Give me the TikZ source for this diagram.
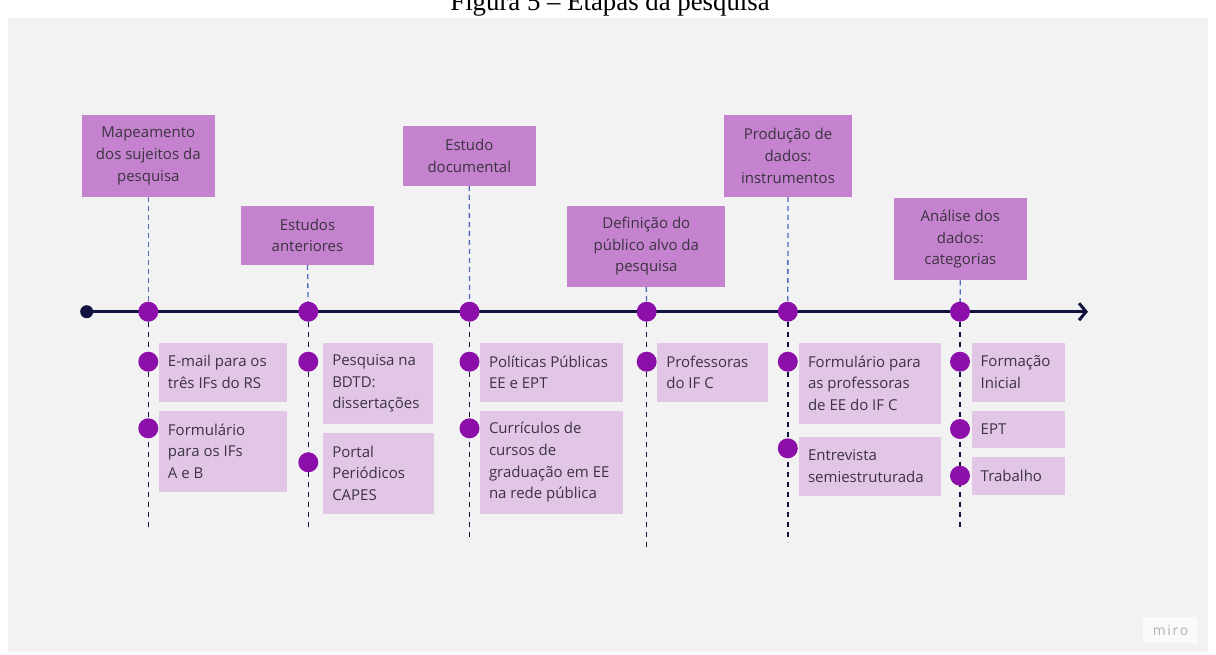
\documentclass[tikz,border=0pt]{standalone}
\usepackage{fontspec}
\usetikzlibrary{arrows.meta}
\newfontfamily\boxfont{Open Sans}
\newfontfamily\mirofont[LetterSpace=12]{Open Sans}
\newfontfamily\titlefont{Liberation Serif}
\definecolor{panel}{HTML}{F2F2F2}
\definecolor{topfill}{HTML}{C582CF}
\definecolor{subfill}{HTML}{E2C6E6}
\definecolor{dotc}{HTML}{8C0FAA}
\definecolor{navy}{HTML}{12123F}
\definecolor{updashc}{HTML}{5068C0}
\definecolor{txt}{HTML}{3C3440}
\pgfdeclarelayer{back}
\pgfdeclarelayer{bg}
\pgfsetlayers{back,bg,main}
\tikzset{
  topbox/.style={rectangle, fill=topfill, inner sep=0pt, align=center, text=txt,
    font=\boxfont\fontsize{15}{21.7}\selectfont},
  subbox/.style={rectangle, fill=subfill, inner sep=0pt},
  subtext/.style={anchor=west, inner sep=0pt, align=left, text=txt,
    font=\boxfont\fontsize{15}{21.7}\selectfont},
  dot/.style={circle, fill=dotc, inner sep=0pt, minimum size=20pt},
  startdot/.style={circle, fill=navy, inner sep=0pt, minimum size=13pt},
  updash/.style={draw=updashc, line width=1.3pt, dash pattern=on 5pt off 4pt},
  downdash/.style={draw=navy, line width=1.5pt, dash pattern=on 5pt off 5pt},
  timeline/.style={draw=navy, line width=3pt, -{Straight Barb[length=7pt,width=17pt]}},
}
\begin{document}
\begin{tikzpicture}[x=1pt,y=-1pt]
\useasboundingbox (0,0) rectangle (1216,654);
\begin{pgfonlayer}{back}
\fill[white] (0,0) rectangle (1216,654);
\fill[panel] (8,18) rectangle (1208,652);
\end{pgfonlayer}
\node[font=\titlefont\fontsize{26.8}{30}\selectfont, anchor=base, inner sep=0pt] (title) at (610,10) {Figura 5 – Etapas da pesquisa};

% top boxes
\node[topbox, minimum width=133.3pt, minimum height=81.7pt] (t1) at (148.3,155.8) {Mapeamento\\dos sujeitos da\\pesquisa};
\node[topbox, minimum width=133pt, minimum height=59.3pt] (t2) at (307.5,235.3) {Estudos\\anteriores};
\node[topbox, minimum width=133.3pt, minimum height=59.7pt] (t3) at (469.3,155.8) {Estudo\\documental};
\node[topbox, minimum width=158pt, minimum height=81pt] (t4) at (646.3,246.2) {Definição do\\público alvo da\\pesquisa};
\node[topbox, minimum width=128pt, minimum height=81.7pt] (t5) at (788,155.8) {Produção de\\dados:\\instrumentos};
\node[topbox, minimum width=132.7pt, minimum height=81.7pt] (t6) at (960.3,239.2) {Análise dos\\dados:\\categorias};

% timeline
\node[startdot] (s) at (86.7,311.7) {};
\coordinate (tend) at (1088,311.7);
\node[dot] (c1) at (148.3,311.7) {};
\node[dot] (c2) at (308.3,311.7) {};
\node[dot] (c3) at (469.5,311.7) {};
\node[dot] (c4) at (646.7,311.7) {};
\node[dot] (c5) at (787.8,311.7) {};
\node[dot] (c6) at (960,311.7) {};

% end points of lower dashed lines
\coordinate (e1) at (148.3,530);
\coordinate (e2) at (308.3,530);
\coordinate (e3) at (469.5,541.7);
\coordinate (e4) at (646.7,550);
\coordinate (e5) at (787.8,541.7);
\coordinate (e6) at (960,530);

% sub boxes
\node[subbox, minimum width=127.7pt, minimum height=59pt] (b1a) at (222.8,372.2) {};
\node[subtext] at ([xshift=9pt]b1a.west) {E-mail para os\\três IFs do RS};
\node[subbox, minimum width=127.7pt, minimum height=81pt] (b1b) at (222.8,451.2) {};
\node[subtext] at ([xshift=9pt]b1b.west) {Formulário\\para os IFs\\A e B};

\node[subbox, minimum width=109.5pt, minimum height=81.3pt] (b2a) at (378,383.3) {};
\node[subtext] at ([xshift=9pt]b2a.west) {Pesquisa na\\BDTD:\\dissertações};
\node[subbox, minimum width=110.7pt, minimum height=81.3pt] (b2b) at (378.6,473.3) {};
\node[subtext] at ([xshift=9pt]b2b.west) {Portal\\Periódicos\\CAPES};

\node[subbox, minimum width=143pt, minimum height=59pt] (b3a) at (551.5,372.2) {};
\node[subtext] at ([xshift=9pt]b3a.west) {Políticas Públicas\\EE e EPT};
\node[subbox, minimum width=143pt, minimum height=103.3pt] (b3b) at (551.5,462.3) {};
\node[subtext] at ([xshift=9pt]b3b.west) {Currículos de\\cursos de\\graduação em EE\\na rede pública};

\node[subbox, minimum width=110.4pt, minimum height=59pt] (b4a) at (712.5,372.2) {};
\node[subtext] at ([xshift=9pt]b4a.west) {Professoras\\do IF C};

\node[subbox, minimum width=142pt, minimum height=81.3pt] (b5a) at (870,383.3) {};
\node[subtext] at ([xshift=9pt]b5a.west) {Formulário para\\as professoras\\de EE do IF C};
\node[subbox, minimum width=142pt, minimum height=59.3pt] (b5b) at (870,466.3) {};
\node[subtext] at ([xshift=9pt]b5b.west) {Entrevista\\semiestruturada};

\node[subbox, minimum width=93pt, minimum height=59pt] (b6a) at (1018.2,372.2) {};
\node[subtext] at ([xshift=9pt]b6a.west) {Formação\\Inicial};
\node[subbox, minimum width=93pt, minimum height=37.3pt] (b6b) at (1018.2,429.3) {};
\node[subtext] at ([xshift=9pt]b6b.west) {EPT};
\node[subbox, minimum width=93pt, minimum height=37.4pt] (b6c) at (1018.2,476) {};
\node[subtext] at ([xshift=9pt]b6c.west) {Trabalho};

% sub dots
\node[dot] (d1a) at (148.3,361.7) {};
\node[dot] (d1b) at (148.3,428.3) {};
\node[dot] (d2a) at (308.3,361.7) {};
\node[dot] (d2b) at (308.3,462.3) {};
\node[dot] (d3a) at (469.5,361.7) {};
\node[dot] (d3b) at (469.5,428.3) {};
\node[dot] (d4a) at (646.7,361.7) {};
\node[dot] (d5a) at (787.8,361.7) {};
\node[dot] (d5b) at (787.8,448.3) {};
\node[dot] (d6a) at (960,361.7) {};
\node[dot] (d6b) at (960,429) {};
\node[dot] (d6c) at (960,475.7) {};

% miro watermark
\node[rectangle, fill=white!60!panel, minimum width=55pt, minimum height=26pt, inner sep=0pt,
  text=black!30, font=\mirofont\fontsize{14}{16}\selectfont] (miro) at (1170.5,630) {miro};

\begin{pgfonlayer}{bg}
\draw[timeline] (s.center) -- (tend);
\foreach \t/\c in {t1/c1,t2/c2,t3/c3,t4/c4,t5/c5,t6/c6}{
  \draw[updash] (\t.south) -- (\c.center);
}
\foreach \c/\e in {c1/e1,c2/e2,c3/e3,c4/e4,c5/e5,c6/e6}{
  \draw[downdash] (\c.center) -- (\e);
}
\end{pgfonlayer}
\end{tikzpicture}
\end{document}
